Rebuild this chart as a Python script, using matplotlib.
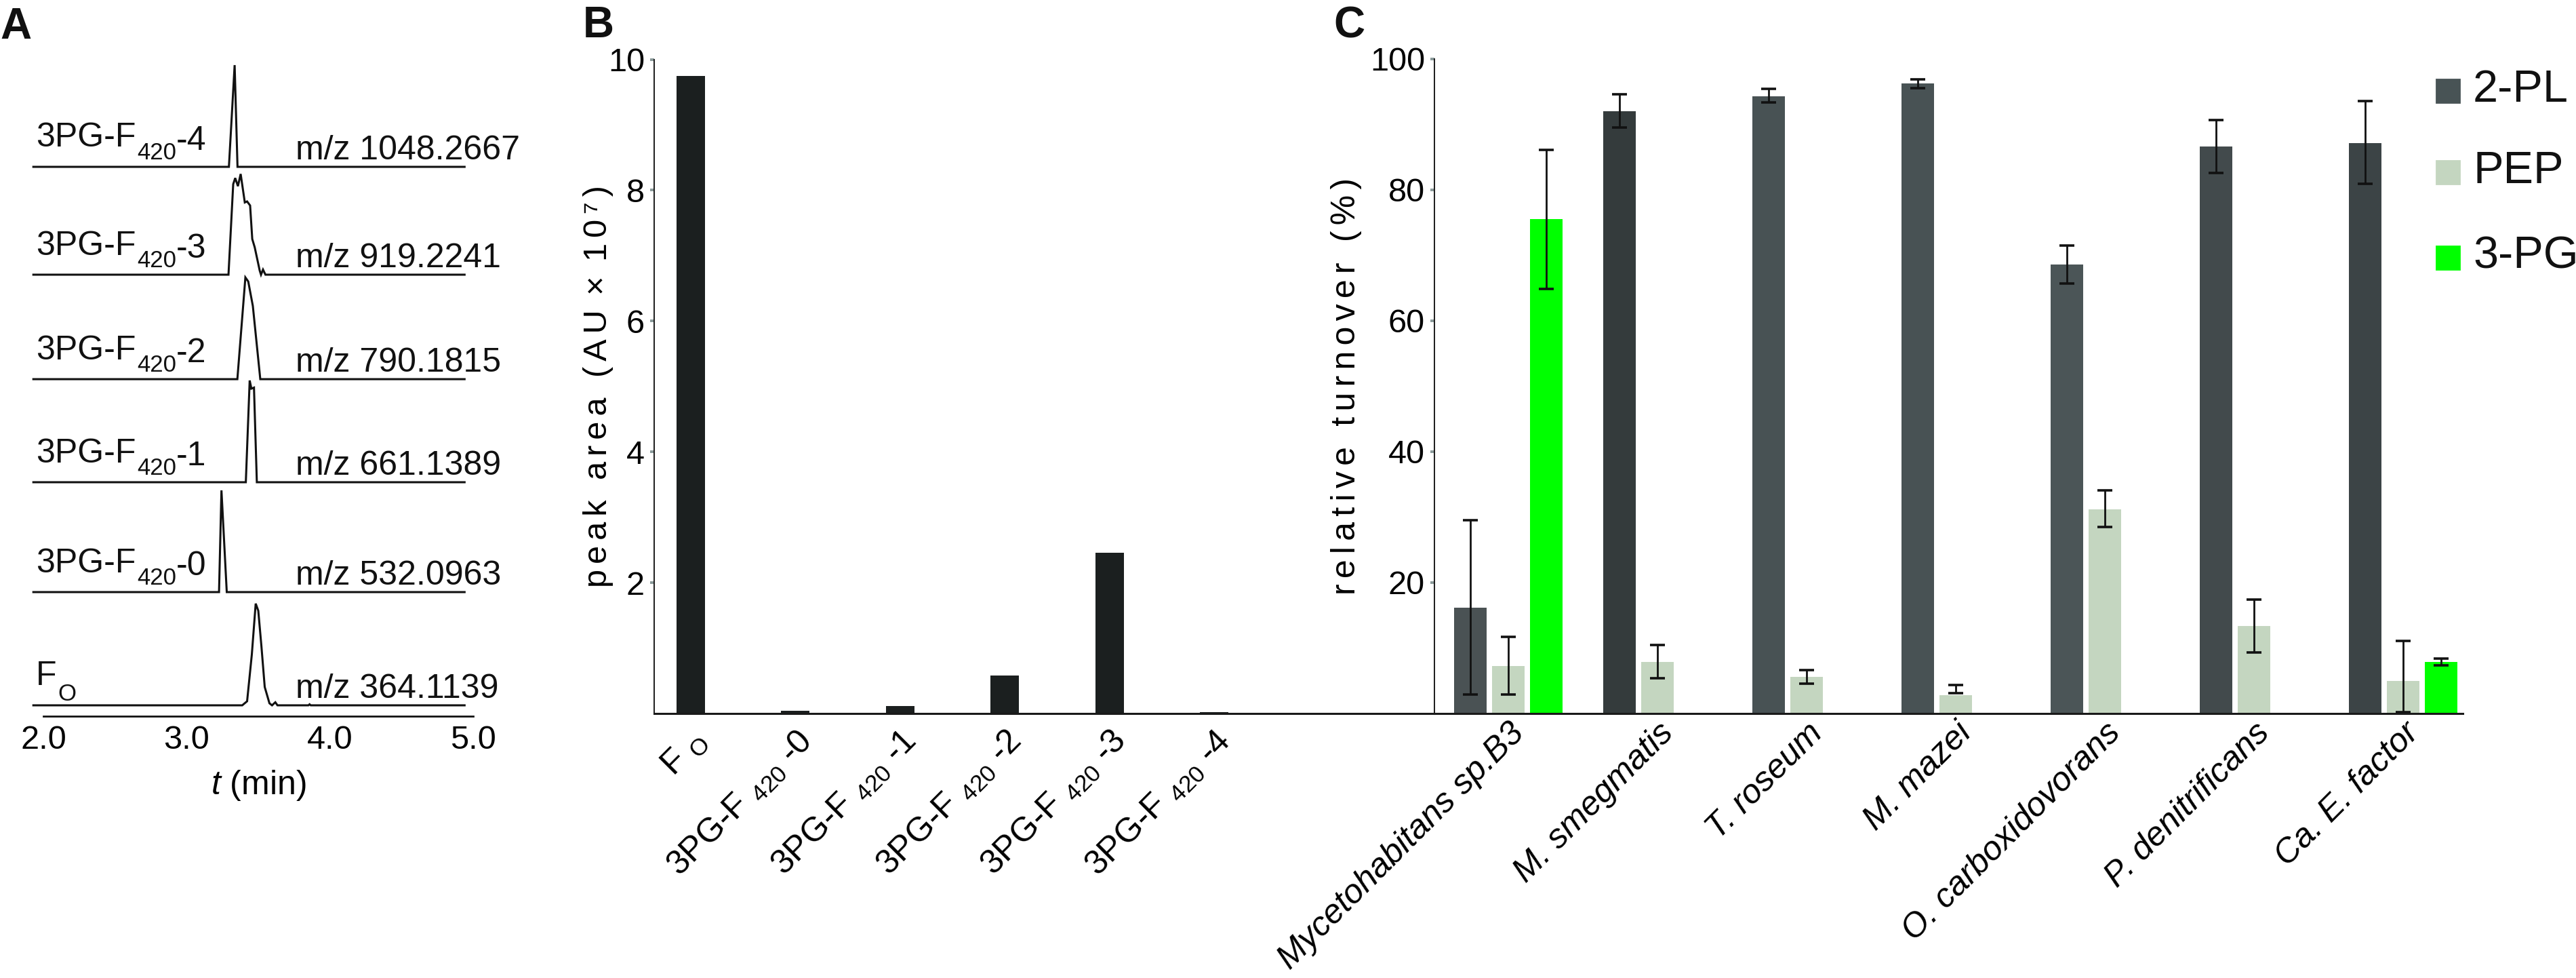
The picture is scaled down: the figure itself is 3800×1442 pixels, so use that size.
import matplotlib
matplotlib.use('Agg')
import matplotlib.pyplot as plt
from matplotlib.patches import Rectangle
import numpy as np

plt.rcParams['font.family'] = ['Liberation Sans', 'DejaVu Sans']
plt.rcParams['mathtext.fontset'] = 'custom'
plt.rcParams['mathtext.rm'] = 'Liberation Sans'
plt.rcParams['mathtext.it'] = 'Liberation Sans:italic'
plt.rcParams['mathtext.bf'] = 'Liberation Sans:bold'
plt.rcParams['text.color'] = '#111111'

# ---------------- Panel A data: extracted ion chromatograms ----------------
# each name: (main text, subscript, suffix)
trace_names = [('F', 'O', ''), ('3PG-F', '420', '-0'), ('3PG-F', '420', '-1'),
               ('3PG-F', '420', '-2'), ('3PG-F', '420', '-3'), ('3PG-F', '420', '-4')]
trace_mz = ['m/z 364.1139', 'm/z 532.0963', 'm/z 661.1389',
            'm/z 790.1815', 'm/z 919.2241', 'm/z 1048.2667']
fo_t = [1.93, 3.388, 3.422, 3.455, 3.482, 3.500, 3.522, 3.545, 3.578, 3.596, 3.619, 3.634, 3.85, 3.858, 3.866, 4.94]
fo_i = [0, 0, 4, 50, 100, 93, 58, 18, 2, 0, 3, 0, 0, 1, 0, 0]
pg0_t = [1.93, 3.226, 3.243, 3.280, 4.94]
pg0_i = [0, 0, 100, 0, 0]
pg1_t = [1.93, 3.413, 3.440, 3.452, 3.470, 3.490, 4.94]
pg1_i = [0, 0, 100, 92, 93, 0, 0]
pg2_t = [1.93, 3.354, 3.410, 3.430, 3.462, 3.514, 4.94]
pg2_i = [0, 0, 100, 96, 72, 0, 0]
pg3_t = [1.93, 3.292, 3.325, 3.339, 3.358, 3.377, 3.406, 3.422, 3.443, 3.458, 3.475, 3.510, 3.519, 3.533, 3.550, 4.94]
pg3_i = [0, 0, 89, 95, 87, 99, 71, 72, 68, 35, 27, 4, 0, 5, 0, 0]
pg4_t = [1.93, 3.295, 3.335, 3.355, 4.94]
pg4_i = [0, 0, 100, 0, 0]
a_xticks = [2.0, 3.0, 4.0, 5.0]

# ---------------- Panel B data ----------------
b_labels = [r'F $_\mathrm{O}$', r'3PG-F $_{420}$ -0', r'3PG-F $_{420}$ -1',
            r'3PG-F $_{420}$ -2', r'3PG-F $_{420}$ -3', r'3PG-F $_{420}$ -4']
b_values = [9.75, 0.04, 0.11, 0.58, 2.46, 0.02]
b_yticks = [2, 4, 6, 8, 10]

# ---------------- Panel C data ----------------
c_species = ['Mycetohabitans sp.B3', 'M. smegmatis', 'T. roseum', 'M. mazei',
             'O. carboxidovorans', 'P. denitrificans', 'Ca. E. factor']
pl_vals = [16.2, 92.0, 94.3, 96.3, 68.6, 86.6, 87.1]
pl_lo = [2.9, 89.5, 93.3, 95.5, 65.7, 82.6, 80.9]
pl_hi = [29.5, 94.6, 95.4, 96.9, 71.5, 90.7, 93.6]
pep_vals = [7.3, 7.9, 5.6, 2.8, 31.2, 13.4, 5.0]
pep_lo = [2.9, 5.4, 4.6, 3.1, 28.5, 9.3, 0.2]
pep_hi = [11.7, 10.5, 6.6, 4.4, 34.1, 17.4, 11.1]
pg_vals = [75.5, 0, 0, 0, 0, 0, 7.85]
pg_lo = [64.9, None, None, None, None, None, 7.4]
pg_hi = [86.1, None, None, None, None, None, 8.4]
c_yticks = [20, 40, 60, 80, 100]
series_names = ['2-PL', 'PEP', '3-PG']

# ---------------- styles ----------------
W, H = 3800, 1442
pl_colors = ['#4a5254', '#343b3c', '#485254', '#485254', '#4b5557', '#424a4c', '#3c4446']
series_colors = ['#485355', '#c4d6c0', '#00ff00']
trace_offsets = [10.7, 122, 230, 331.3, 434, 540]   # vertical stacking of traces
tick_grey = '#8a9a9a'
HAIR = '\u200a'


def spaced(s, n=1):
    return (HAIR * n).join(s)


fig = plt.figure(figsize=(W / 200, H / 200), dpi=200)


def fbox(x0, y_top, x1, y_bot):
    return [x0 / W, 1 - y_bot / H, (x1 - x0) / W, (y_bot - y_top) / H]


# ================= Panel A =================
axA = fig.add_axes(fbox(64, 80, 698, 1056))
traces = [(fo_t, fo_i), (pg0_t, pg0_i), (pg1_t, pg1_i), (pg2_t, pg2_i), (pg3_t, pg3_i), (pg4_t, pg4_i)]
for (t, inten), off, (main, sub, suf), mz in zip(traces, trace_offsets, trace_names, trace_mz):
    axA.plot(t, np.asarray(inten) + off, color='#111111', lw=1.1, clip_on=False,
             solid_joinstyle='miter')
    t1 = axA.text(1.948, off + 13, main, fontsize=18, ha='left', va='bottom')
    drop = 7.0 if sub == 'O' else 5.5
    t2 = axA.annotate(sub, xy=(1, 0), xycoords=t1, xytext=(0.5, -drop), textcoords='offset points',
                      fontsize=12.5, ha='left', va='bottom')
    if suf:
        axA.annotate(suf, xy=(1, 0), xycoords=t2, xytext=(0, drop - 1.6), textcoords='offset points',
                     fontsize=18, ha='left', va='bottom')
    axA.text(3.76, off + 7.5, mz, fontsize=18, ha='left', va='baseline')
axA.set_xlim(2.0, 5.0)
axA.set_ylim(0, (1056 - 80) / 1.5)
for s in ['top', 'right', 'left']:
    axA.spines[s].set_visible(False)
axA.spines['bottom'].set_linewidth(1.0)
axA.spines['bottom'].set_color('#111111')
axA.set_yticks([])
axA.set_xticks(a_xticks)
axA.set_xticklabels([f'{v:.1f}' for v in a_xticks])
axA.tick_params(axis='x', length=0, pad=4.5, labelsize=17.5)
axA.set_xlabel(r'$t$ (min)', fontsize=18, labelpad=7)

# ================= Panel B =================
axB = fig.add_axes(fbox(965, 87.5, 2116, 1052))
xb = np.arange(len(b_values))
axB.bar(xb, b_values, width=0.272, color='#1b1f1f')
axB.set_xlim(-0.35, 7.106)
axB.set_ylim(0, 10)
for s in ['top', 'right']:
    axB.spines[s].set_visible(False)
axB.spines['left'].set_linewidth(0.7)
axB.spines['bottom'].set_linewidth(1.1)
axB.spines['left'].set_color('#1a1a1a')
axB.spines['bottom'].set_color('#1a1a1a')
axB.set_yticks(b_yticks)
axB.set_yticklabels([str(v) for v in b_yticks])
axB.tick_params(axis='y', length=2, width=1.4, color=tick_grey, labelsize=17.5, pad=3)
axB.set_xticks(xb)
axB.set_xticklabels(b_labels, rotation=45, ha='right', va='top', rotation_mode='anchor', fontsize=18)
axB.tick_params(axis='x', length=0, pad=6)
axB.set_ylabel(spaced('peak area (AU', 2) + HAIR * 2 + ' × ' + HAIR * 2 + spaced('10\u2077)', 2),
               fontsize=17.5)
axB.yaxis.set_label_coords(-0.052, 0.5)

# ================= Panel C =================
axC = fig.add_axes(fbox(2116, 86.8, 3633, 1052))
xc = np.arange(len(c_species))
off = 0.2545
bw = 0.218
axC.bar(xc - off, pl_vals, bw, color=pl_colors)
axC.bar(xc, pep_vals, bw, color=series_colors[1])
axC.bar(xc + off, pg_vals, bw, color=series_colors[2])


def ebars(xpos, lo, hi):
    xs, ys, half = [], [], []
    for x, l, h in zip(xpos, lo, hi):
        if l is None:
            continue
        xs.append(x)
        ys.append((l + h) / 2)
        half.append((h - l) / 2)
    axC.errorbar(xs, ys, yerr=half, fmt='none', ecolor='#111111',
                 elinewidth=1.0, capsize=4.0, capthick=1.3)


ebars(xc - off, pl_lo, pl_hi)
ebars(xc, pep_lo, pep_hi)
ebars(xc + off, pg_lo, pg_hi)
axC.set_xlim(-0.495, 6.4)
axC.set_ylim(0, 100)
for s in ['top', 'right']:
    axC.spines[s].set_visible(False)
axC.spines['left'].set_linewidth(0.7)
axC.spines['bottom'].set_linewidth(1.1)
axC.spines['left'].set_color('#1a1a1a')
axC.spines['bottom'].set_color('#1a1a1a')
axC.set_yticks(c_yticks)
axC.set_yticklabels([str(v) for v in c_yticks])
axC.tick_params(axis='y', length=2, width=1.4, color=tick_grey, labelsize=17.5, pad=3)
axC.set_xticks(xc)
axC.set_xticklabels(c_species, rotation=45, ha='right', va='top', rotation_mode='anchor',
                    fontsize=18, fontstyle='italic')
axC.tick_params(axis='x', length=0, pad=2)
axC.set_ylabel(spaced('relative turnover (%)', 2), fontsize=18)
axC.yaxis.set_label_coords(-0.0705, 0.5)

# legend (manual, matching the reference layout)
leg_tops = [117, 237, 363]
for name, col, top in zip(series_names, series_colors, leg_tops):
    fig.patches.append(Rectangle((3594 / W, 1 - (top + 34) / H), 34 / W, 34 / H,
                                 transform=fig.transFigure, color=col))
    fig.text(3648 / W, 1 - (top + 33) / H, name, fontsize=24, ha='left', va='baseline')

# panel letters
for letter, x, yb in [('A', 0, 57), ('B', 860, 55), ('C', 1967, 55)]:
    fig.text(x / W, 1 - yb / H, letter, fontsize=23, fontweight='bold', ha='left', va='baseline')

fig.savefig('out.png', dpi=200)
